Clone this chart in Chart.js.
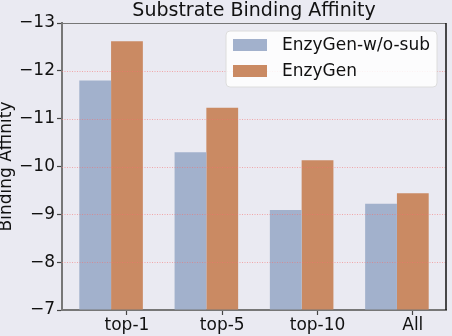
<!DOCTYPE html>
<html>
<head>
<meta charset="utf-8">
<script src="https://cdn.jsdelivr.net/npm/chart.js@4/dist/chart.umd.min.js"></script>
<style>
  html, body { margin: 0; padding: 0; background: #eaeaf2; }
  canvas { display: block; }
</style>
</head>
<body>
<canvas id="chart" width="452" height="336"></canvas>
<script>
var categories = ['top-1', 'top-5', 'top-10', 'All'];
var seriesNames = ['EnzyGen-w/o-sub', 'EnzyGen'];
var woSubValues = [-11.8, -10.3, -9.09, -9.22];
var enzyGenValues = [-12.62, -11.23, -10.13, -9.44];
var yTicks = [-13, -12, -11, -10, -9, -8, -7];
var gridValues = [-12, -11, -10, -9, -8];
var colors = ['#a2b1cc', '#ca8a63'];
var FONT = "'DejaVu Sans', sans-serif";
// tick labels sit under the second bar of each pair, as in the source plot
var TICK_SHIFT = 1 / 6;

function toPoints(vals) {
    return vals.map(function (v, i) { return { x: i, y: v }; });
}
function minus(v) { return String(v).replace('-', '\u2212'); }

// dotted grid on top of the bars, spines, title, y label and the legend box
var decor = {
    id: 'decor',
    afterDatasetsDraw: function (chart) {
        var ctx = chart.ctx, a = chart.chartArea, ys = chart.scales.y;
        ctx.save();
        ctx.strokeStyle = 'rgba(245,110,110,0.55)';
        ctx.lineWidth = 1;
        ctx.setLineDash([1, 1.5]);
        gridValues.forEach(function (v) {
            var py = Math.round(ys.getPixelForValue(v)) + 0.5;
            ctx.beginPath();
            ctx.moveTo(a.left, py);
            ctx.lineTo(a.right, py);
            ctx.stroke();
        });
        ctx.restore();
    },
    afterDraw: function (chart) {
        var ctx = chart.ctx, a = chart.chartArea;
        ctx.save();
        ctx.lineWidth = 1;
        ctx.strokeStyle = '#777';
        ctx.beginPath();
        ctx.moveTo(a.left, a.top + 0.5);
        ctx.lineTo(a.right, a.top + 0.5);
        ctx.stroke();
        ctx.lineWidth = 1.5;
        ctx.strokeStyle = '#111';
        ctx.beginPath();
        ctx.moveTo(a.right, a.top);
        ctx.lineTo(a.right, a.bottom);
        ctx.stroke();

        ctx.fillStyle = '#111';
        ctx.font = '19px ' + FONT;
        ctx.textAlign = 'center';
        ctx.textBaseline = 'middle';
        ctx.fillText('Substrate Binding Affinity', (a.left + a.right) / 2, 11);

        ctx.font = '17px ' + FONT;
        ctx.save();
        ctx.translate(7, (a.top + a.bottom) / 2);
        ctx.rotate(-Math.PI / 2);
        ctx.fillText('Binding Affinity', 0, 0);
        ctx.restore();

        // legend box
        var x = 226, y = 31, w = 211, h = 56, r = 4;
        ctx.beginPath();
        ctx.moveTo(x + r, y);
        ctx.arcTo(x + w, y, x + w, y + h, r);
        ctx.arcTo(x + w, y + h, x, y + h, r);
        ctx.arcTo(x, y + h, x, y, r);
        ctx.arcTo(x, y, x + w, y, r);
        ctx.closePath();
        ctx.fillStyle = 'rgba(255,255,255,0.85)';
        ctx.fill();
        ctx.strokeStyle = '#dcdcdc';
        ctx.lineWidth = 1;
        ctx.stroke();
        ctx.font = '17px ' + FONT;
        ctx.textAlign = 'left';
        seriesNames.forEach(function (name, i) {
            var cy = 45 + i * 26;
            ctx.fillStyle = colors[i];
            ctx.fillRect(233, cy - 6, 34, 12);
            ctx.fillStyle = '#111';
            ctx.fillText(name, 282, cy + 1);
        });
        ctx.restore();
    }
};

new Chart(document.getElementById('chart'), {
    type: 'bar',
    data: {
        datasets: [
            { label: seriesNames[0], data: toPoints(woSubValues), backgroundColor: colors[0] },
            { label: seriesNames[1], data: toPoints(enzyGenValues), backgroundColor: colors[1] }
        ]
    },
    options: {
        responsive: false,
        animation: false,
        events: [],
        layout: { padding: { top: 23, right: 6, left: 0, bottom: 0 } },
        datasets: {
            bar: {
                base: -7,
                categoryPercentage: 0.667,
                barPercentage: 1,
                borderWidth: 0
            }
        },
        plugins: { legend: { display: false }, title: { display: false }, tooltip: { enabled: false } },
        scales: {
            x: {
                type: 'linear',
                offset: false,
                min: -0.515,
                max: 3.515,
                afterBuildTicks: function (axis) {
                    axis.ticks = categories.map(function (c, i) { return { value: i + TICK_SHIFT }; });
                },
                afterFit: function (axis) { axis.height = 26; },
                ticks: {
                    callback: function (v) { return categories[Math.round(v - TICK_SHIFT)]; },
                    color: '#111',
                    font: { family: FONT, size: 17 },
                    padding: 0,
                    maxRotation: 0
                },
                grid: { offset: false, drawOnChartArea: false, drawTicks: true, tickLength: 5, tickColor: '#444', tickWidth: 1.2 },
                border: { color: '#777', width: 2 }
            },
            y: {
                min: -13,
                max: -7,
                reverse: true,
                afterBuildTicks: function (axis) {
                    axis.ticks = yTicks.map(function (v) { return { value: v }; });
                },
                afterFit: function (axis) { axis.width = 62; },
                ticks: {
                    callback: function (v) { return minus(v); },
                    color: '#111',
                    font: { family: FONT, size: 17 },
                    padding: 2
                },
                grid: { drawOnChartArea: false, drawTicks: true, tickLength: 5, tickColor: '#444', tickWidth: 1.2 },
                border: { color: '#777', width: 2 }
            }
        }
    },
    plugins: [decor]
});
</script>
</body>
</html>
